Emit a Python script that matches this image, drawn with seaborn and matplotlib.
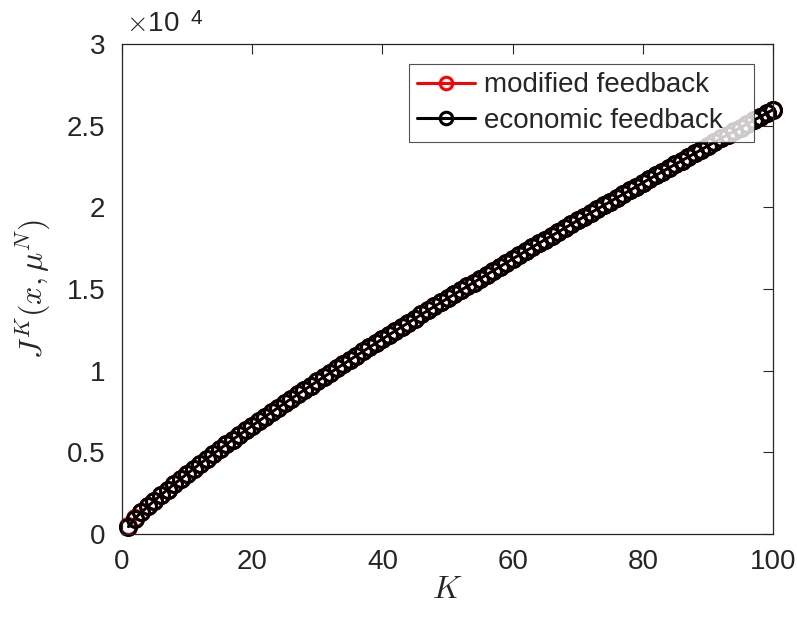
import matplotlib
matplotlib.use("Agg")
import matplotlib.pyplot as plt
import seaborn as sns
import numpy as np
import pandas as pd

# Horizont K = 1..100
K = list(range(1, 101))

# Kosten J^K(x, mu^N)
economic = [
    430, 935, 1320, 1686, 2037, 2379, 2712, 3038, 3358, 3673,
    3983, 4289, 4591, 4889, 5184, 5476, 5767, 6053, 6338, 6621,
    6900, 7180, 7455, 7730, 8005, 8275, 8545, 8815, 9079, 9344,
    9608, 9868, 10132, 10392, 10651, 10910, 11170, 11424, 11678, 11932,
    12185, 12437, 12688, 12938, 13187, 13435, 13682, 13929, 14175, 14420,
    14664, 14907, 15150, 15392, 15634, 15875, 16115, 16355, 16594, 16840,
    17078, 17315, 17552, 17788, 18023, 18258, 18492, 18726, 18959, 19198,
    19430, 19661, 19892, 20122, 20352, 20581, 20810, 21038, 21266, 21508,
    21735, 21961, 22187, 22413, 22638, 22863, 23087, 23311, 23534, 23773,
    23995, 24217, 24438, 24659, 24880, 25100, 25320, 25540, 25760, 25980,
]
modified = [
    450, 960, 1330, 1690, 2040, 2380, 2712, 3038, 3358, 3673,
    3983, 4289, 4591, 4889, 5184, 5476, 5767, 6053, 6338, 6621,
    6900, 7180, 7455, 7730, 8005, 8275, 8545, 8815, 9079, 9344,
    9608, 9868, 10132, 10392, 10651, 10910, 11170, 11424, 11678, 11932,
    12185, 12437, 12688, 12938, 13187, 13435, 13682, 13929, 14175, 14420,
    14664, 14907, 15150, 15392, 15634, 15875, 16115, 16355, 16594, 16840,
    17078, 17315, 17552, 17788, 18023, 18258, 18492, 18726, 18959, 19198,
    19430, 19661, 19892, 20122, 20352, 20581, 20810, 21038, 21266, 21508,
    21735, 21961, 22187, 22413, 22638, 22863, 23087, 23311, 23534, 23773,
    23995, 24217, 24438, 24659, 24880, 25100, 25320, 25540, 25760, 25980,
]

x_ticks = [0, 20, 40, 60, 80, 100]
y_ticks = [0, 5000, 10000, 15000, 20000, 25000, 30000]
y_tick_labels = ["0", "0.5", "1", "1.5", "2", "2.5", "3"]

sns.set_style("white")
plt.rcParams["font.family"] = ["Liberation Sans", "DejaVu Sans"]
plt.rcParams["mathtext.fontset"] = "cm"

df = pd.DataFrame({"K": K, "modified": modified, "economic": economic})

fig = plt.figure(figsize=(7.97, 6.2), dpi=100)
ax = fig.add_axes([0.153, 0.139, 0.817, 0.790])

marker_kw = dict(marker="o", markersize=11.5, markerfacecolor="none",
                 markeredgewidth=2.2, linewidth=2, clip_on=False)
sns.lineplot(data=df, x="K", y="modified", ax=ax, color="red",
             markeredgecolor="red", label="modified feedback", **marker_kw)
sns.lineplot(data=df, x="K", y="economic", ax=ax, color="black",
             markeredgecolor="black", label="economic feedback   ", **marker_kw)

ax.set_xlim(0, 100)
ax.set_ylim(0, 30000)
ax.set_xticks(x_ticks)
ax.set_yticks(y_ticks)
ax.set_yticklabels(y_tick_labels)
ax.tick_params(direction="in", length=7, width=0.8, top=True, right=True,
               labelsize=20, colors="#262626")
ax.tick_params(axis="x", pad=11)
ax.tick_params(axis="y", pad=12)
for sp in ax.spines.values():
    sp.set_color("#262626")
    sp.set_linewidth(0.9)

ax.set_xlabel("$K$", fontsize=23, color="#262626", labelpad=0)
ax.set_ylabel(r"$J^K(x,\mu^N)$", fontsize=23, color="#262626", labelpad=10)

# Exponent oben links wie bei MATLAB
ax.text(0.006, 1.014, r"$\times$10", transform=ax.transAxes, fontsize=20,
        color="#262626", ha="left", va="bottom")
ax.text(0.106, 1.032, "4", transform=ax.transAxes, fontsize=15,
        color="#262626", ha="left", va="bottom")

leg = ax.legend(loc="upper right", bbox_to_anchor=(0.971, 0.959), fontsize=20,
                frameon=True, fancybox=False, handlelength=2.1,
                borderpad=0.3, borderaxespad=0, labelspacing=0.33,
                handletextpad=0.3)
leg.get_frame().set_edgecolor("#262626")
leg.get_frame().set_linewidth(0.8)
for h in leg.legend_handles:
    h.set_markersize(9)
    h.set_markeredgewidth(2.2)
    h.set_linewidth(2.2)

fig.savefig("out.png", dpi=100)
